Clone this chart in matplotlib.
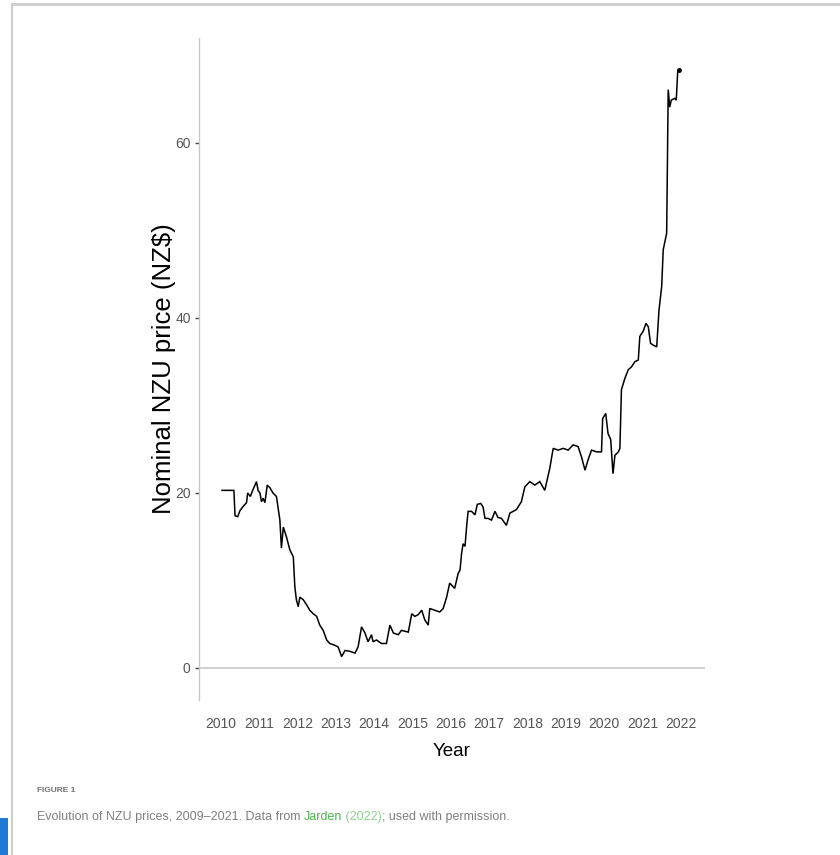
import matplotlib
matplotlib.use("Agg")
import matplotlib.pyplot as plt
from matplotlib.patches import Rectangle

# NZU spot price (NZ$), decimal year
years = [
    2010.03, 2010.34, 2010.37, 2010.44, 2010.50, 2010.57, 2010.67, 2010.70, 2010.77, 2010.83,
    2010.89, 2010.93, 2010.97, 2011.02, 2011.06, 2011.10, 2011.15, 2011.21, 2011.28, 2011.36,
    2011.45, 2011.49, 2011.54, 2011.58, 2011.63, 2011.71, 2011.80, 2011.89, 2011.93, 2011.97,
    2012.02, 2012.06, 2012.15, 2012.24, 2012.32, 2012.41, 2012.50, 2012.58, 2012.67, 2012.76,
    2012.84, 2012.97, 2013.06, 2013.15, 2013.24, 2013.37, 2013.50, 2013.58, 2013.67, 2013.76,
    2013.84, 2013.93, 2013.97, 2014.06, 2014.19, 2014.32, 2014.41, 2014.50, 2014.63, 2014.71,
    2014.89, 2014.98, 2015.06, 2015.15, 2015.24, 2015.32, 2015.41, 2015.45, 2015.58, 2015.71,
    2015.80, 2015.89, 2015.97, 2016.10, 2016.19, 2016.24, 2016.28, 2016.32, 2016.37, 2016.41,
    2016.45, 2016.54, 2016.63, 2016.69, 2016.78, 2016.84, 2016.89, 2016.97, 2017.06, 2017.15,
    2017.23, 2017.32, 2017.45, 2017.54, 2017.71, 2017.84, 2017.93, 2018.06, 2018.19, 2018.32,
    2018.45, 2018.58, 2018.67, 2018.80, 2018.93, 2019.06, 2019.19, 2019.32, 2019.41, 2019.50,
    2019.58, 2019.67, 2019.80, 2019.93, 2019.96, 2020.04, 2020.10, 2020.17, 2020.23, 2020.28,
    2020.37, 2020.41, 2020.45, 2020.54, 2020.63, 2020.71, 2020.80, 2020.89, 2020.93, 2021.02,
    2021.09, 2021.15, 2021.21, 2021.28, 2021.37, 2021.43, 2021.50, 2021.54, 2021.63, 2021.67,
    2021.71, 2021.75, 2021.84, 2021.88, 2021.92, 2021.96,
]
prices = [
    20.3, 20.3, 17.4, 17.3, 18.0, 18.4, 18.9, 20.0, 19.6, 20.3,
    20.9, 21.3, 20.3, 20.0, 19.0, 19.4, 18.9, 20.9, 20.6, 20.0,
    19.6, 18.4, 16.9, 13.7, 16.1, 15.0, 13.5, 12.7, 9.3, 7.8,
    7.0, 8.1, 7.8, 7.2, 6.6, 6.2, 5.9, 4.9, 4.3, 3.2,
    2.8, 2.6, 2.4, 1.3, 2.0, 1.9, 1.7, 2.4, 4.7, 4.0,
    3.0, 3.8, 3.0, 3.2, 2.8, 2.8, 4.9, 4.0, 3.8, 4.3,
    4.1, 6.2, 5.9, 6.1, 6.6, 5.5, 4.9, 6.8, 6.6, 6.4,
    6.8, 8.1, 9.7, 9.1, 10.8, 11.2, 13.1, 14.2, 13.9, 16.1,
    17.9, 17.9, 17.5, 18.7, 18.8, 18.4, 17.1, 17.1, 16.9, 17.9,
    17.2, 17.1, 16.3, 17.7, 18.1, 19.0, 20.7, 21.3, 20.9, 21.3,
    20.3, 22.8, 25.1, 24.9, 25.1, 24.9, 25.5, 25.3, 24.1, 22.6,
    23.8, 24.9, 24.7, 24.7, 28.5, 29.1, 26.8, 26.1, 22.2, 24.3,
    24.7, 25.1, 31.8, 33.1, 34.1, 34.4, 35.0, 35.2, 37.9, 38.5,
    39.4, 39.0, 37.1, 36.9, 36.7, 40.9, 43.6, 47.8, 49.7, 66.1,
    64.1, 64.9, 65.1, 64.9, 68.3, 68.3,
]
year_ticks = list(range(2010, 2023))
price_ticks = [0, 20, 40, 60]

SANS = ["Liberation Sans", "DejaVu Sans"]
GREY_TXT = "#555555"
AXIS_GREY = "#c8c8c8"

fig = plt.figure(figsize=(8.4, 8.55), dpi=100)
fig.patch.set_facecolor("white")

# page frame + side marker
fig.add_artist(plt.Line2D([12 / 840, 1.0], [1 - 4 / 855, 1 - 4 / 855], color="#cfcfcf", lw=2.2))
fig.add_artist(plt.Line2D([12 / 840, 12 / 840], [0, 1 - 4 / 855], color="#cfcfcf", lw=1.6))
fig.add_artist(Rectangle((0, 0), 8 / 840, 37 / 855, color="#1f7ad6", lw=0))

ax = fig.add_axes([199 / 840, 1 - 700 / 855, 506 / 840, 662 / 855])
ax.plot(years, prices, color="black", lw=1.1, solid_joinstyle="miter")
ax.plot(years[-1], prices[-1], "o", color="black", ms=2.5)
ax.axhline(0, color=AXIS_GREY, lw=1.2, zorder=0)

ax.set_xlim(2009.43, 2022.63)
ax.set_ylim(-3.66, 72)
ax.set_xticks(year_ticks)
ax.set_xticklabels([str(y) for y in year_ticks], family=SANS, fontsize=10, color=GREY_TXT)
ax.set_yticks(price_ticks)
ax.set_yticklabels([str(p) for p in price_ticks], family=SANS, fontsize=10, color=GREY_TXT)
ax.tick_params(axis="x", length=0, pad=12)
ax.tick_params(axis="y", length=3, width=1, color="#444444", pad=3)

for s in ("top", "right", "bottom"):
    ax.spines[s].set_visible(False)
ax.spines["left"].set_color(AXIS_GREY)
ax.spines["left"].set_linewidth(1.0)

ax.set_xlabel("Year", family=SANS, fontsize=13.5, color="black", labelpad=9)
ax.set_ylabel("Nominal NZU price (NZ$)", family=SANS, fontsize=18.5, color="black")
ax.yaxis.set_label_coords(-0.046, 0.5)

# caption
cap_grey = "#808080"
fig.text(37 / 840, 1 - 790 / 855, "FIGURE 1", family=SANS, fontsize=6.0,
         fontweight="bold", color="#707070", va="center")
t1 = fig.text(37 / 840, 1 - 817 / 855, "Evolution of NZU prices, 2009\u20132021. Data from ",
              family=SANS, fontsize=9.0, color=cap_grey, va="center")
t2 = fig.text(0, 0, "Jarden", family=SANS, fontsize=9.0, color="#4db34d")
t3 = fig.text(0, 0, " (2022)", family=SANS, fontsize=9.0, color="#8fd08f")
t4 = fig.text(0, 0, "; used with permission.", family=SANS, fontsize=9.0, color=cap_grey)

fig.canvas.draw()
r = fig.canvas.get_renderer()
prev = t1
for t in (t2, t3, t4):
    bb = prev.get_window_extent(r)
    t.set_position((bb.x1 / fig.bbox.width, t1.get_position()[1]))
    t.set_va("center")
    fig.canvas.draw()
    prev = t

fig.savefig("out.png", dpi=100)
